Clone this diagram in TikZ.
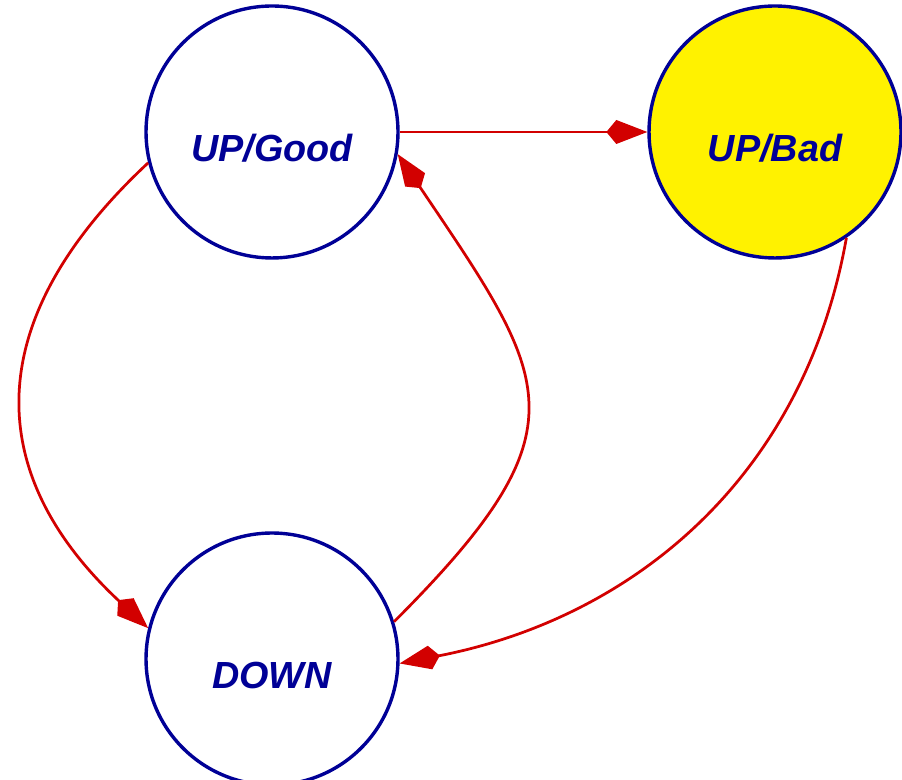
\documentclass[tikz,border=0pt]{standalone}
\usepackage{fontspec}
\setsansfont{Liberation Sans}
\usetikzlibrary{arrows.meta}
\definecolor{navy}{RGB}{0,0,150}
\definecolor{arrowred}{RGB}{210,0,0}
\begin{document}
\begin{tikzpicture}[x=0.02cm, y=0.02cm,
  state/.style={circle, draw=navy, line width=0.068cm, minimum size=5.04cm, inner sep=0pt,
    text=navy, font=\sffamily\bfseries\itshape\fontsize{21.5}{24}\selectfont,
    text height=1.18cm, text depth=0pt},
  trans/.style={draw=arrowred, line width=0.055cm,
    -{Kite[length=0.82cm, width=0.48cm, inset=0.2cm]}}]
  \useasboundingbox (0,0) rectangle (902,780);
  % States
  \node[state] (good) at (272,648) {UP/Good};
  \node[state, fill=yellow] (bad) at (775,648) {UP/Bad};
  \node[state] (down) at (272,121) {DOWN};
  % Transitions
  \draw[trans] (good) -- (bad);
  \draw[trans] (good.194) to[out=223, in=137, looseness=1.26] (down.166);
  \draw[trans] (down.17) to[out=45, in=-56, looseness=1.5] (good.-10);
  \draw[trans] (bad.-56) to[out=-100, in=11] (down.-2);
\end{tikzpicture}
\end{document}
